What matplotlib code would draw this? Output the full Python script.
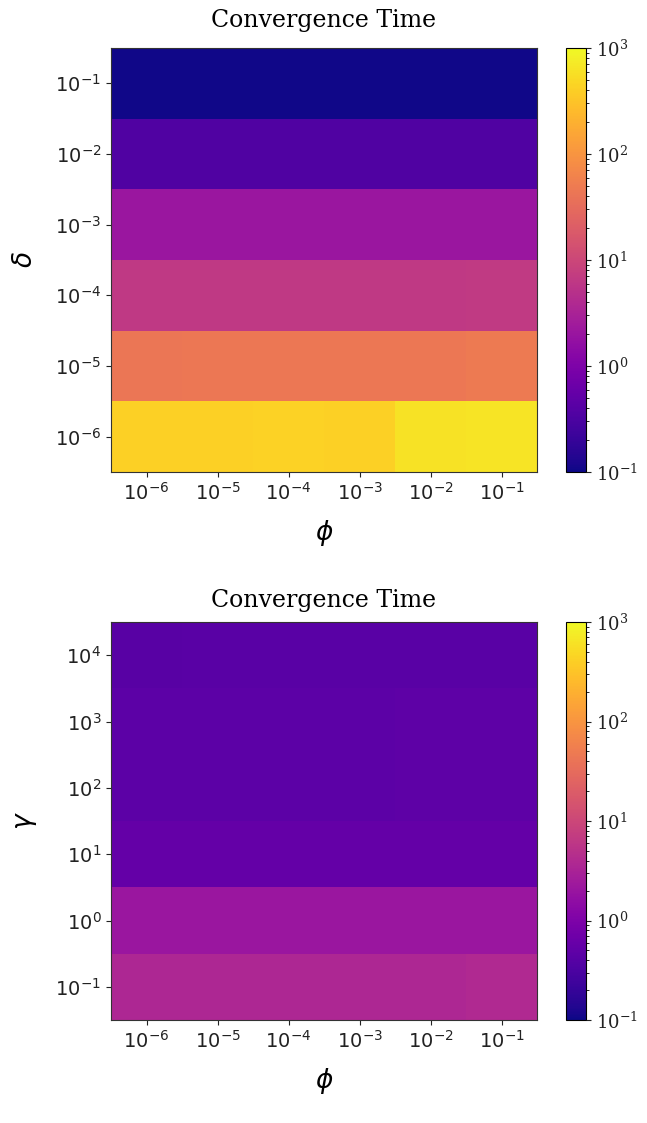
import numpy as np
import matplotlib
matplotlib.use("Agg")
import matplotlib.pyplot as plt
from matplotlib.colors import LogNorm
from matplotlib.ticker import NullLocator, LogFormatterSciNotation

# ---- data ----
phi = [1e-6, 1e-5, 1e-4, 1e-3, 1e-2, 1e-1]
delta = [1e-6, 1e-5, 1e-4, 1e-3, 1e-2, 1e-1]
gamma = [1e-1, 1e0, 1e1, 1e2, 1e3, 1e4]

# rows follow delta (ascending), columns follow phi
time_delta = [
    [420, 420, 425, 420, 620, 630],   # delta = 1e-6
    [43, 44, 44, 44, 45, 48],         # delta = 1e-5
    [6.3, 6.3, 6.3, 6.3, 6.4, 6.5],   # delta = 1e-4
    [2.1, 2.1, 2.1, 2.1, 2.1, 2.1],   # delta = 1e-3
    [0.34, 0.35, 0.35, 0.35, 0.35, 0.35],  # delta = 1e-2
    [0.105, 0.105, 0.105, 0.105, 0.105, 0.105],  # delta = 1e-1
]
# rows follow gamma (ascending), columns follow phi
time_gamma = [
    [3.6, 3.6, 3.6, 3.6, 3.6, 3.9],   # gamma = 1e-1
    [2.1, 2.1, 2.1, 2.1, 2.1, 2.1],   # gamma = 1e0
    [0.55, 0.55, 0.55, 0.55, 0.55, 0.56],  # gamma = 1e1
    [0.46, 0.46, 0.46, 0.46, 0.47, 0.48],  # gamma = 1e2
    [0.46, 0.46, 0.46, 0.46, 0.47, 0.48],  # gamma = 1e3
    [0.42, 0.43, 0.43, 0.43, 0.43, 0.43],  # gamma = 1e4
]
vmin, vmax = 1e-1, 1e3


def log_edges(c):
    c = np.log10(np.asarray(c, dtype=float))
    d = np.diff(c)
    e = np.concatenate([[c[0] - d[0] / 2], c[:-1] + d / 2, [c[-1] + d[-1] / 2]])
    return 10 ** e


W, H = 647, 1123
fig = plt.figure(figsize=(W / 100, H / 100), dpi=100)


def panel(top, bottom, yvals, data, ylabel, title_pad):
    ax = fig.add_axes([111 / W, (H - bottom) / H, 426 / W, (bottom - top) / H])
    cax = fig.add_axes([566 / W, (H - bottom) / H, 20 / W, (bottom - top) / H])
    norm = LogNorm(vmin=vmin, vmax=vmax)
    m = ax.pcolormesh(log_edges(phi), log_edges(yvals), np.asarray(data),
                      cmap="plasma", norm=norm, shading="flat")
    ax.set_xscale("log")
    ax.set_yscale("log")
    ax.set_xticks(phi)
    ax.set_yticks(yvals)
    ax.xaxis.set_major_formatter(LogFormatterSciNotation())
    ax.yaxis.set_major_formatter(LogFormatterSciNotation())
    ax.xaxis.set_minor_locator(NullLocator())
    ax.yaxis.set_minor_locator(NullLocator())
    ax.tick_params(labelsize=14, colors="#222222")
    for s in ax.spines.values():
        s.set_color("#333333")
    ax.set_xlabel(r"$\phi$", fontsize=19, labelpad=10)
    ax.set_ylabel(ylabel, fontsize=19, labelpad=12)
    ax.set_title("Convergence Time", family="DejaVu Serif", fontsize=17, pad=title_pad)
    fig.colorbar(m, cax=cax)
    cax.tick_params(colors="#222222")
    for t in cax.get_yticklabels():
        t.set_fontfamily("DejaVu Serif")
        t.set_math_fontfamily("dejavuserif")
        t.set_fontsize(13)
    return ax


panel(48, 472, delta, time_delta, r"$\delta$", 15)
panel(622, 1020, gamma, time_gamma, r"$\gamma$", 11)

fig.savefig("out.png", dpi=100)
